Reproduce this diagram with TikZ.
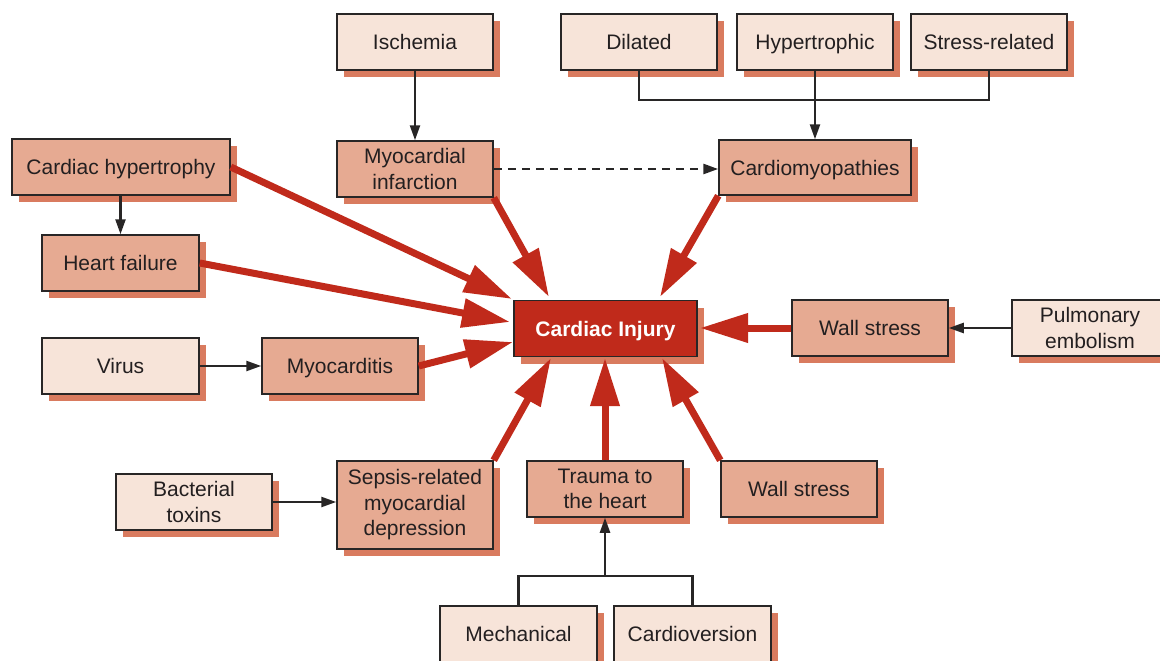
\documentclass[tikz,border=0pt]{standalone}
\usepackage{fontspec}
\setmainfont{Liberation Sans}
\usetikzlibrary{arrows.meta,shadows}
\definecolor{lightbox}{RGB}{247,228,217}
\definecolor{midbox}{RGB}{230,170,146}
\definecolor{shadowc}{RGB}{217,123,95}
\definecolor{injred}{RGB}{192,42,27}
\definecolor{edgec}{RGB}{40,38,38}
\definecolor{textc}{RGB}{35,31,32}
\begin{document}
\begin{tikzpicture}[x=1pt,y=-1pt,
  box/.style={draw=edgec, line width=1.5pt, minimum width=156pt, minimum height=56pt,
    inner sep=2pt, align=center, font=\fontsize{21}{25.5}\selectfont, text=textc,
    drop shadow={shadow xshift=7pt, shadow yshift=-7pt, fill=shadowc, opacity=1}},
  one/.style={text height=15pt, text depth=0pt},
  lightb/.style={box, fill=lightbox},
  midb/.style={box, fill=midbox},
  injb/.style={box, fill=injred, text=white, font=\fontsize{21}{25.5}\selectfont\bfseries},
  redarrow/.style={draw=injred, line width=7pt, -{Triangle[length=48pt,width=28pt]}},
  blackarrow/.style={draw=edgec, line width=2.4pt, -{Triangle[length=15pt,width=10pt]}},
  blackline/.style={draw=edgec, line width=2.4pt},
  dashline/.style={draw=edgec, line width=2.7pt, dash pattern=on 8pt off 6pt, -{Triangle[length=15pt,width=10pt]}}
]
\useasboundingbox (0,0) rectangle (1160,661);
% nodes
\node[lightb, one] (isch) at (415,42) {Ischemia};
\node[midb] (mi) at (415,169) {Myocardial\\infarction};
\node[lightb, one] (dil) at (639,42) {Dilated};
\node[lightb, one] (hyp) at (815,42) {Hypertrophic};
\node[lightb, one] (str) at (989,42) {Stress-related};
\node[midb, one, minimum width=192pt, minimum height=55pt] (cm) at (815,167.5) {Cardiomyopathies};
\node[midb, one, minimum width=218pt] (ch) at (121,167) {Cardiac hypertrophy};
\node[midb, one, minimum width=157pt] (hf) at (120.5,263) {Heart failure};
\node[injb, one, minimum width=183pt] (ci) at (605.5,328.5) {Cardiac Injury};
\node[midb, one] (ws1) at (870,328) {Wall stress};
\node[lightb] (pe) at (1090,328) {Pulmonary\\embolism};
\node[lightb, one, minimum width=157pt] (virus) at (120.5,366) {Virus};
\node[midb, one] (myo) at (340,366) {Myocarditis};
\node[lightb] (bt) at (194,502) {Bacterial\\toxins};
\node[midb, minimum height=88pt] (sep) at (415,505) {Sepsis-related\\myocardial\\depression};
\node[midb] (tr) at (605,489) {Trauma to\\the heart};
\node[midb, one] (ws2) at (799,489) {Wall stress};
\node[lightb, one, minimum width=157pt] (mech) at (518.5,634) {Mechanical};
\node[lightb, one, minimum width=157pt] (cv) at (692.5,634) {Cardioversion};
% black connectors
\draw[blackarrow] (isch.south) -- (mi.north);
\coordinate (tb) at (815,100);
\draw[blackline] (dil.south) |- (tb) -| (str.south);
\draw[blackarrow] (hyp.south) -- (cm.north);
\draw[dashline] (mi.east) -- (mi.east -| cm.west);
\draw[blackarrow] (ch.south -| hf.north) -- (hf.north);
\draw[blackarrow] (virus.east) -- (myo.west);
\draw[blackarrow] (pe.west) -- (ws1.east);
\draw[blackarrow] (bt.east) -- (bt.east -| sep.west);
\coordinate (bb) at (605,576);
\draw[blackline] (mech.north) |- (bb) -| (cv.north);
\draw[blackarrow] (bb) -- (tr.south);
% red arrows
\coordinate (t1) at (512,299);
\coordinate (t2) at (510,322);
\coordinate (t3) at (513,342);
\coordinate (t4) at (549,297);
\coordinate (t5) at (660,297);
\coordinate (t6) at (700,328);
\coordinate (t7) at (662,358);
\coordinate (t8) at (605,358);
\coordinate (t9) at (551,358);
\draw[redarrow] (ch.east) -- (t1);
\draw[redarrow] (hf.east) -- (t2);
\draw[redarrow] (myo.east) -- (t3);
\draw[redarrow] (mi.south east) -- (t4);
\draw[redarrow] (cm.south west) -- (t5);
\draw[redarrow] (ws1.west) -- (t6);
\draw[redarrow] (ws2.north west) -- (t7);
\draw[redarrow] (tr.north) -- (t8);
\draw[redarrow] (sep.north east) -- (t9);
\end{tikzpicture}
\end{document}
